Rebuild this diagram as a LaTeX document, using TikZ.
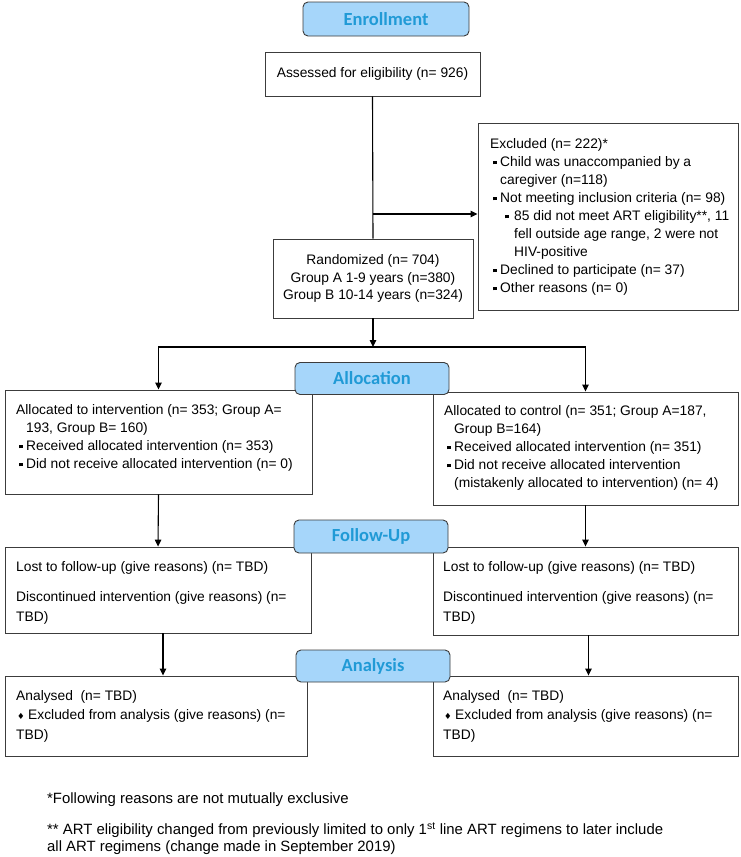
\documentclass[tikz,border=0pt]{standalone}
\usepackage{fontspec}
\setmainfont{Liberation Sans}
\newfontfamily\headfont{Carlito}
\newfontfamily\symfont{DejaVu Sans}
\usetikzlibrary{arrows.meta,calc}
\definecolor{headfill}{RGB}{166,214,250}
\definecolor{headtext}{RGB}{32,154,214}
\definecolor{boxline}{RGB}{60,60,60}
\newcommand{\sqb}{\makebox[10pt][l]{\hspace{2.5pt}\rule[1.8pt]{3.8pt}{3.8pt}}}
\newcommand{\subsqb}{\hspace*{15pt}\makebox[9pt][l]{\rule[1.8pt]{3.8pt}{3.8pt}}}
\newcommand{\dmb}{\makebox[12pt][l]{\hspace{1pt}{\symfont\fontsize{8.5}{8.5}\selectfont ♦}}}
\begin{document}
\begin{tikzpicture}[x=1pt,y=-1pt,
  box/.style={draw=boxline, line width=0.9pt, fill=white, inner sep=0pt},
  head/.style={draw=boxline, line width=0.9pt, fill=headfill, rounded corners=5pt, text=headtext,
    font=\headfont\bfseries\fontsize{18.5}{20}\selectfont, minimum height=32pt, minimum width=154pt, inner sep=0pt},
  txt/.style={anchor=north west, inner sep=0pt, align=left, font=\fontsize{13.8}{18}\selectfont},
  ctxt/.style={align=center, font=\fontsize{13.8}{17.5}\selectfont},
  fntxt/.style={anchor=north west, inner sep=0pt, align=left, font=\fontsize{14.9}{17}\selectfont},
  arr/.style={-{Triangle[length=7pt,width=6.5pt]}, line width=1.1pt, black},
  lin/.style={line width=1.1pt, black}
]
\fill[white] (0,0) rectangle (740,857);
\useasboundingbox (0,0) rectangle (740,857);

% boxes
\node[box, ctxt, minimum width=215pt, minimum height=44pt] (assessed) at (372.5,74) {Assessed for eligibility (n= 926)};
\node[box, minimum width=260pt, minimum height=187pt] (excl) at (608,216.5) {};
\node[box, ctxt, minimum width=200pt, minimum height=79pt] (rand) at (373,278.5)
  {Randomized (n= 704)\\Group A 1-9 years (n=380)\\Group B 10-14 years (n=324)};
\node[box, minimum width=307pt, minimum height=104pt] (leftalloc) at (158.5,442) {};
\node[box, minimum width=305pt, minimum height=113pt] (rightalloc) at (585.5,448.5) {};
\node[box, minimum width=306pt, minimum height=86pt] (leftfollow) at (158,590) {};
\node[box, minimum width=305pt, minimum height=88pt] (rightfollow) at (585.5,591) {};
\node[box, minimum width=302pt, minimum height=80pt] (leftana) at (156,716) {};
\node[box, minimum width=305pt, minimum height=80pt] (rightana) at (585.5,716) {};

% headings
\node[head, minimum width=166pt, minimum height=34pt] (enroll) at (386,19) {Enrollment};
\node[head] (allochead) at (372,378.5) {Allocation};
\node[head, minimum height=33pt] (followhead) at (371,536.5) {Follow-Up};
\node[head] (anahead) at (373,666) {Analysis};

% connectors
\draw[lin] (assessed.south) -- (rand.north);
\coordinate (branch) at (assessed.south |- 0,214);
\draw[arr] (branch) -- (branch -| excl.west);
\coordinate (split) at (rand.south |- 0,347);
\draw[arr] (rand.south) -- (split);
\draw[arr] (split) -| (leftalloc.north);
\draw[arr] (split) -| (rightalloc.north);
\draw[arr] (leftalloc.south) -- (leftfollow.north);
\draw[arr] (rightalloc.south) -- (rightfollow.north);
\draw[arr] ([xshift=5pt]leftfollow.south) -- ([xshift=5pt]leftfollow.south |- leftana.north);
\draw[arr] ([xshift=3pt]rightfollow.south) -- ([xshift=3pt]rightfollow.south |- rightana.north);

% texts
\node[txt] (excltxt) at (490,135.3) {\strut Excluded (n= 222)*\\
\sqb Child was unaccompanied by a\\
\hspace*{10pt}caregiver (n=118)\\
\sqb Not meeting inclusion criteria (n= 98)\\
\subsqb 85 did not meet ART eligibility**, 11\\
\hspace*{24pt}fell outside age range, 2 were not\\
\hspace*{24pt}HIV-positive\\
\sqb Declined to participate (n= 37)\\
\sqb Other reasons (n= 0)};

\node[txt] (latxt) at (16,401.3) {\strut Allocated to intervention (n= 353; Group A=\\
\hspace*{10pt}193, Group B= 160)\\
\sqb Received allocated intervention (n= 353)\\
\sqb Did not receive allocated intervention (n= 0)};

\node[txt] (ratxt) at (444,402.3) {\strut Allocated to control (n= 351; Group A=187,\\
\hspace*{10pt}Group B=164)\\
\sqb Received allocated intervention (n= 351)\\
\sqb Did not receive allocated intervention\\
\hspace*{10pt}(mistakenly allocated to intervention) (n= 4)};

\node[txt] (lftxt) at (16,558.3) {\strut Lost to follow-up (give reasons) (n= TBD)\\[12pt]
Discontinued intervention (give reasons) (n=\\[2pt]TBD)};
\node[txt] (rftxt) at (443,558.3) {\strut Lost to follow-up (give reasons) (n= TBD)\\[12pt]
Discontinued intervention (give reasons) (n=\\[2pt]TBD)};

\node[txt] (lntxt) at (16,687.3) {\strut Analysed\ \ (n= TBD)\\[1.5pt]
\dmb Excluded from analysis (give reasons) (n=\\[1.5pt]TBD)};
\node[txt] (rntxt) at (443,687.3) {\strut Analysed\ \ (n= TBD)\\[1.5pt]
\dmb Excluded from analysis (give reasons) (n=\\[1.5pt]TBD)};

\node[fntxt] (fn1) at (47,791.5) {\strut *Following reasons are not mutually exclusive};
\node[fntxt] (fn2) at (47,822.5) {\strut ** ART eligibility changed from previously limited to only 1\textsuperscript{st} line ART regimens to later include\\
all ART regimens (change made in September 2019)};
\end{tikzpicture}
\end{document}
